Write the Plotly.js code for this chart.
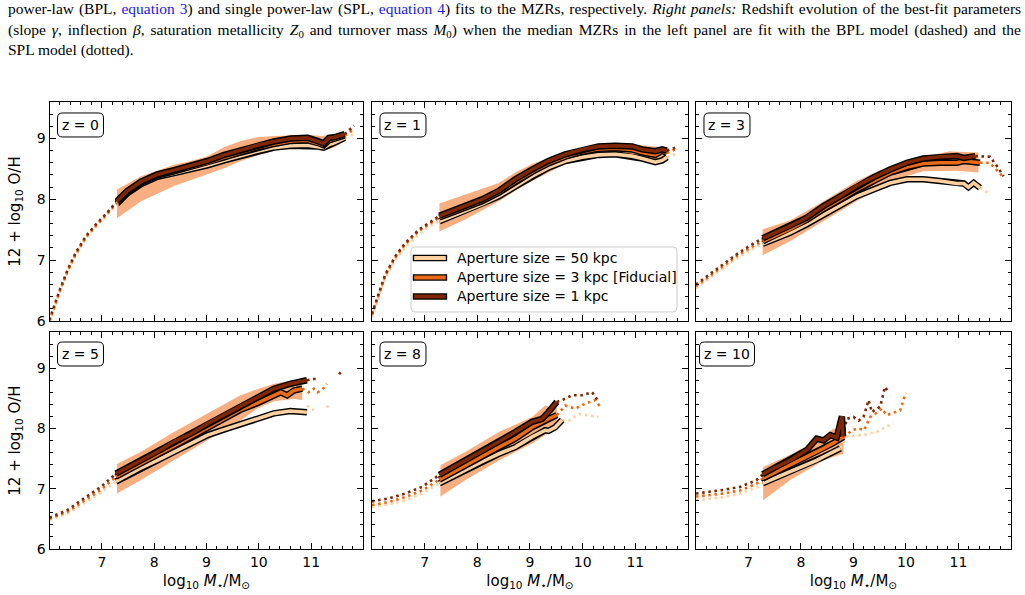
<!DOCTYPE html>
<html>
<head>
<meta charset="utf-8">
<script src="https://cdn.plot.ly/plotly-3.0.1.min.js"></script>
<style>html,body{margin:0;padding:0;background:#fff;}#chart{width:1025px;height:595px;}</style>
</head>
<body>
<div id="chart"></div>
<script>
// ---------------- DATA ----------------
const panelLabels = ['z = 0', 'z = 1', 'z = 3', 'z = 5', 'z = 8', 'z = 10'];
const apertureNames = ['Aperture size = 50 kpc', 'Aperture size = 3 kpc [Fiducial]', 'Aperture size = 1 kpc'];
const xTickVals = [7, 8, 9, 10, 11];
const yTickVals = [6, 7, 8, 9];

// z = 0
const z0_m = [7.29, 7.49, 7.75, 8.06, 8.38, 8.70, 9.02, 9.34, 9.66, 9.97, 10.29, 10.61, 10.93, 11.12, 11.24, 11.34, 11.44, 11.64];
const z0_oh1 = [7.97, 8.14, 8.29, 8.41, 8.48, 8.55, 8.63, 8.73, 8.81, 8.89, 8.95, 9.00, 9.01, 8.96, 8.92, 9.01, 9.02, 9.07];
const z0_oh3 = [7.95, 8.12, 8.27, 8.39, 8.46, 8.53, 8.60, 8.69, 8.77, 8.85, 8.91, 8.96, 8.97, 8.93, 8.89, 8.97, 8.99, 9.05];
const z0_oh50 = [7.93, 8.10, 8.25, 8.37, 8.43, 8.49, 8.56, 8.64, 8.72, 8.79, 8.85, 8.88, 8.89, 8.87, 8.85, 8.90, 8.93, 9.01];
const z0_bandM = [7.29, 7.75, 8.38, 8.70, 9.02, 9.34, 9.66, 9.97, 10.29, 10.93, 11.20, 11.44, 11.64];
const z0_bandHi = [8.16, 8.38, 8.57, 8.63, 8.71, 8.86, 8.96, 9.02, 9.04, 9.06, 9.04, 9.07, 9.08];
const z0_bandLo = [7.69, 7.97, 8.22, 8.31, 8.41, 8.51, 8.63, 8.72, 8.80, 8.86, 8.80, 8.85, 8.96];
const z0_lowM = [6.0, 6.1, 6.2, 6.35, 6.5, 6.7, 6.9, 7.1, 7.29];
const z0_low1 = [6.02, 6.28, 6.52, 6.85, 7.12, 7.40, 7.60, 7.78, 7.97];
const z0_low3 = [6.00, 6.26, 6.50, 6.83, 7.10, 7.38, 7.58, 7.76, 7.95];
const z0_low50 = [5.98, 6.24, 6.48, 6.81, 7.08, 7.36, 7.56, 7.74, 7.93];
const z0_hiM = [11.64, 11.73, 11.82];
const z0_hi1 = [9.07, 9.14, 9.21];
const z0_hi3 = [9.05, 9.10, 9.15];
const z0_hi50 = [9.01, 9.04, 9.07];

// z = 1
const z1_m = [7.28, 7.77, 8.09, 8.41, 8.72, 9.04, 9.35, 9.67, 9.99, 10.30, 10.62, 10.94, 11.13, 11.38, 11.51, 11.60];
const z1_oh1 = [7.73, 7.89, 8.00, 8.14, 8.33, 8.49, 8.63, 8.74, 8.82, 8.87, 8.88, 8.87, 8.82, 8.79, 8.82, 8.80];
const z1_oh3 = [7.70, 7.86, 7.97, 8.11, 8.29, 8.45, 8.59, 8.70, 8.78, 8.83, 8.84, 8.82, 8.77, 8.73, 8.80, 8.76];
const z1_oh50 = [7.64, 7.81, 7.92, 8.05, 8.21, 8.38, 8.52, 8.63, 8.69, 8.73, 8.74, 8.71, 8.67, 8.61, 8.64, 8.69];
const z1_bandM = [7.28, 7.77, 8.41, 8.72, 9.04, 9.67, 10.30, 10.94, 11.25, 11.57];
const z1_bandHi = [7.93, 8.08, 8.27, 8.44, 8.58, 8.77, 8.86, 8.90, 8.88, 8.85];
const z1_bandLo = [7.47, 7.67, 7.97, 8.14, 8.30, 8.58, 8.69, 8.69, 8.63, 8.66];
const z1_lowM = [6.0, 6.13, 6.25, 6.44, 6.63, 6.89, 7.14, 7.28];
const z1_low1 = [6.12, 6.45, 6.76, 7.06, 7.28, 7.50, 7.65, 7.73];
const z1_low3 = [6.10, 6.43, 6.74, 7.04, 7.26, 7.48, 7.63, 7.70];
const z1_low50 = [6.06, 6.39, 6.70, 7.00, 7.21, 7.43, 7.58, 7.64];
const z1_hiM = [11.60, 11.70, 11.80];
const z1_hi1 = [8.80, 8.83, 8.86];
const z1_hi3 = [8.76, 8.80, 8.84];
const z1_hi50 = [8.69, 8.73, 8.76];

// z = 3
const z3_m1 = [7.27, 7.79, 8.11, 8.43, 8.75, 9.06, 9.38, 9.70, 10.02, 10.33, 10.65, 10.97, 11.10, 11.32];
const z3_oh1 = [7.36, 7.56, 7.70, 7.89, 8.05, 8.22, 8.36, 8.49, 8.60, 8.67, 8.70, 8.71, 8.68, 8.71];
const z3_m3 = [7.27, 7.79, 8.11, 8.43, 8.75, 9.06, 9.38, 9.70, 10.02, 10.33, 10.65, 10.97, 11.10, 11.41];
const z3_oh3 = [7.31, 7.51, 7.66, 7.84, 8.00, 8.16, 8.30, 8.44, 8.53, 8.59, 8.60, 8.60, 8.63, 8.60];
const z3_m50 = [7.27, 7.79, 8.11, 8.43, 8.75, 9.06, 9.38, 9.70, 10.02, 10.33, 10.65, 10.97, 11.10, 11.19, 11.29, 11.41];
const z3_oh50 = [7.27, 7.45, 7.59, 7.75, 7.90, 8.05, 8.16, 8.27, 8.33, 8.33, 8.30, 8.26, 8.26, 8.20, 8.27, 8.19];
const z3_bandM = [7.27, 7.79, 8.43, 9.06, 9.70, 10.33, 10.84, 10.97, 11.38];
const z3_bandHi = [7.51, 7.65, 7.97, 8.30, 8.55, 8.70, 8.79, 8.78, 8.77];
const z3_bandLo = [7.08, 7.31, 7.64, 7.97, 8.30, 8.46, 8.47, 8.47, 8.44];
const z3_lowM = [6.0, 6.27, 6.52, 6.78, 7.03, 7.27];
const z3_low1 = [6.60, 6.77, 6.94, 7.10, 7.24, 7.36];
const z3_low3 = [6.57, 6.74, 6.91, 7.07, 7.20, 7.31];
const z3_low50 = [6.54, 6.71, 6.88, 7.03, 7.16, 7.27];
const z3_hiM1 = [11.32, 11.60, 11.73, 11.86];
const z3_hi1 = [8.71, 8.70, 8.55, 8.38];
const z3_hiM3 = [11.41, 11.60, 11.73, 11.86];
const z3_hi3 = [8.60, 8.60, 8.48, 8.36];
const z3_hiM50 = [11.41, 11.50, 11.60];
const z3_hi50 = [8.19, 8.14, 8.08];

// z = 5
const z5_m1 = [7.27, 7.74, 8.06, 8.38, 8.70, 9.02, 9.33, 9.65, 9.97, 10.29, 10.60, 10.92];
const z5_oh1 = [7.25, 7.47, 7.61, 7.78, 7.91, 8.08, 8.22, 8.38, 8.51, 8.66, 8.74, 8.80];
const z5_m3 = [7.27, 7.74, 8.06, 8.38, 8.70, 9.02, 9.33, 9.65, 9.97, 10.29, 10.42, 10.54, 10.67, 10.83];
const z5_oh3 = [7.20, 7.41, 7.56, 7.71, 7.86, 8.01, 8.16, 8.31, 8.42, 8.55, 8.60, 8.55, 8.63, 8.66];
const z5_m50 = [7.27, 7.74, 8.06, 8.38, 8.70, 9.02, 9.33, 9.65, 9.97, 10.29, 10.60, 10.92];
const z5_oh50 = [7.12, 7.34, 7.47, 7.61, 7.75, 7.89, 7.98, 8.07, 8.16, 8.25, 8.29, 8.27];
const z5_bandM = [7.29, 7.74, 8.38, 9.02, 9.65, 9.97, 10.29, 10.67, 10.83];
const z5_bandHi = [7.41, 7.61, 7.94, 8.25, 8.55, 8.65, 8.74, 8.80, 8.80];
const z5_bandLo = [6.92, 7.14, 7.47, 7.80, 8.13, 8.33, 8.45, 8.49, 8.47];
const z5_lowM = [6.0, 6.35, 6.66, 6.98, 7.27];
const z5_low1 = [6.52, 6.65, 6.84, 7.03, 7.25];
const z5_low3 = [6.50, 6.62, 6.80, 6.98, 7.20];
const z5_low50 = [6.48, 6.59, 6.76, 6.93, 7.12];
const z5_hiM1 = [10.92, 11.05, 11.15, null, 11.53, 11.60];
const z5_hi1 = [8.80, 8.82, 8.82, null, 8.93, 8.88];
const z5_hiM3 = [10.83, 10.95, 11.05, 11.12, 11.21, 11.30];
const z5_hi3 = [8.66, 8.60, 8.66, 8.60, 8.64, 8.74];
const z5_hiM50 = [10.92, 10.99, 11.05, null, 11.30, 11.36];
const z5_hi50 = [8.38, 8.33, 8.30, null, 8.38, 8.32];

// z = 8
const z8_m1 = [7.28, 7.77, 8.09, 8.41, 8.72, 9.04, 9.23, 9.35, 9.51];
const z8_oh1 = [7.23, 7.47, 7.61, 7.78, 7.94, 8.11, 8.16, 8.27, 8.44];
const z8_m3 = [7.28, 7.77, 8.09, 8.41, 8.72, 9.04, 9.35, 9.51];
const z8_oh3 = [7.15, 7.39, 7.54, 7.69, 7.83, 8.02, 8.16, 8.22];
const z8_m50 = [7.28, 7.77, 8.09, 8.41, 8.72, 9.04, 9.29, 9.35, 9.48, 9.61];
const z8_oh50 = [7.09, 7.31, 7.45, 7.58, 7.69, 7.86, 7.97, 7.96, 8.02, 8.14];
const z8_bandM = [7.30, 7.77, 8.41, 9.04, 9.29, 9.51];
const z8_bandHi = [7.39, 7.61, 7.94, 8.19, 8.38, 8.33];
const z8_bandLo = [6.87, 7.14, 7.47, 7.75, 7.89, 7.97];
const z8_lowM = [6.0, 6.32, 6.63, 6.95, 7.28];
const z8_low1 = [6.79, 6.84, 6.92, 7.03, 7.23];
const z8_low3 = [6.73, 6.78, 6.86, 6.97, 7.15];
const z8_low50 = [6.70, 6.74, 6.81, 6.92, 7.09];
const z8_hiM1 = [9.51, 9.61, 9.80, 9.99, 10.18, 10.30];
const z8_hi1 = [8.44, 8.47, 8.55, 8.55, 8.60, 8.45];
const z8_hiM3 = [9.51, 9.67, 9.86, 10.05, 10.24, 10.36];
const z8_hi3 = [8.22, 8.38, 8.33, 8.41, 8.47, 8.33];
const z8_hiM50 = [9.61, 9.74, 9.93, 10.30];
const z8_hi50 = [8.14, 8.13, 8.24, 8.19];

// z = 10
const z10_m1 = [7.27, 7.48, 7.79, 8.11, 8.30, 8.43, 8.56, 8.68, 8.78, 8.80];
const z10_oh1 = [7.24, 7.34, 7.47, 7.64, 7.83, 7.80, 7.89, 7.85, 8.20, 7.87];
const z10_m3 = [7.27, 7.79, 8.11, 8.43, 8.62, 8.81];
const z10_oh3 = [7.17, 7.39, 7.53, 7.67, 7.76, 7.86];
const z10_m50 = [7.27, 7.79, 8.11, 8.30, 8.43, 8.62, 8.75];
const z10_oh50 = [7.09, 7.28, 7.39, 7.47, 7.53, 7.61, 7.67];
const z10_bandM = [7.28, 7.79, 8.43, 8.62, 8.81];
const z10_bandHi = [7.36, 7.56, 7.86, 8.00, 7.91];
const z10_bandLo = [6.81, 7.14, 7.47, 7.53, 7.58];
const z10_lowM = [6.0, 6.52, 6.84, 7.15, 7.27];
const z10_low1 = [6.92, 6.98, 7.03, 7.14, 7.24];
const z10_low3 = [6.87, 6.92, 6.97, 7.08, 7.17];
const z10_low50 = [6.81, 6.86, 6.92, 7.02, 7.09];
const z10_hiM1 = [8.80, 8.87, 9.00, 9.10, 9.19, 9.29, 9.35, 9.41, 9.51, 9.57, 9.60, 9.67];
const z10_hi1 = [7.87, 8.16, 8.19, 8.13, 8.19, 8.47, 8.27, 8.31, 8.36, 8.58, 8.69, 8.60];
const z10_hiM3 = [8.81, 8.87, 8.97, 9.10, 9.20, 9.32, 9.41, 9.54, 9.63, 9.89, 9.95, 10.00];
const z10_hi3 = [7.86, 7.89, 7.97, 8.00, 7.97, 8.19, 8.24, 8.33, 8.22, 8.30, 8.47, 8.59];
const z10_hiM50 = [8.75, 8.87, 9.06, 9.19, 9.32, 9.44, 9.63, 9.76];
const z10_hi50 = [7.67, 7.86, 7.89, 7.89, 7.92, 7.94, 8.03, 8.08];

// ---------------- table built from the arrays ----------------
const panels = [
  {s: [[z0_m, z0_oh50], [z0_m, z0_oh3], [z0_m, z0_oh1]], band: [z0_bandM, z0_bandHi, z0_bandLo],
   low: [[z0_lowM, z0_low50], [z0_lowM, z0_low3], [z0_lowM, z0_low1]], hi: [[z0_hiM, z0_hi50], [z0_hiM, z0_hi3], [z0_hiM, z0_hi1]]},
  {s: [[z1_m, z1_oh50], [z1_m, z1_oh3], [z1_m, z1_oh1]], band: [z1_bandM, z1_bandHi, z1_bandLo],
   low: [[z1_lowM, z1_low50], [z1_lowM, z1_low3], [z1_lowM, z1_low1]], hi: [[z1_hiM, z1_hi50], [z1_hiM, z1_hi3], [z1_hiM, z1_hi1]]},
  {s: [[z3_m50, z3_oh50], [z3_m3, z3_oh3], [z3_m1, z3_oh1]], band: [z3_bandM, z3_bandHi, z3_bandLo],
   low: [[z3_lowM, z3_low50], [z3_lowM, z3_low3], [z3_lowM, z3_low1]], hi: [[z3_hiM50, z3_hi50], [z3_hiM3, z3_hi3], [z3_hiM1, z3_hi1]]},
  {s: [[z5_m50, z5_oh50], [z5_m3, z5_oh3], [z5_m1, z5_oh1]], band: [z5_bandM, z5_bandHi, z5_bandLo],
   low: [[z5_lowM, z5_low50], [z5_lowM, z5_low3], [z5_lowM, z5_low1]], hi: [[z5_hiM50, z5_hi50], [z5_hiM3, z5_hi3], [z5_hiM1, z5_hi1]]},
  {s: [[z8_m50, z8_oh50], [z8_m3, z8_oh3], [z8_m1, z8_oh1]], band: [z8_bandM, z8_bandHi, z8_bandLo],
   low: [[z8_lowM, z8_low50], [z8_lowM, z8_low3], [z8_lowM, z8_low1]], hi: [[z8_hiM50, z8_hi50], [z8_hiM3, z8_hi3], [z8_hiM1, z8_hi1]]},
  {s: [[z10_m50, z10_oh50], [z10_m3, z10_oh3], [z10_m1, z10_oh1]], band: [z10_bandM, z10_bandHi, z10_bandLo],
   low: [[z10_lowM, z10_low50], [z10_lowM, z10_low3], [z10_lowM, z10_low1]], hi: [[z10_hiM50, z10_hi50], [z10_hiM3, z10_hi3], [z10_hiM1, z10_hi1]]}
];

// ---------------- styles ----------------
const COLORS = ['#fdd0a2', '#ec6a16', '#7f2704'];
const BAND = '#f7ae80';
const FONT = 'DejaVu Sans, Verdana, sans-serif';
const colX = [[0.0483, 0.3546], [0.3629, 0.6712], [0.6790, 0.9863]];
const rowY = [[0.4605, 0.8286], [0.0773, 0.4420]];

const traces = [];
const layout = {
  width: 1025, height: 595,
  margin: {l: 0, r: 0, t: 0, b: 0},
  paper_bgcolor: '#ffffff', plot_bgcolor: '#ffffff',
  showlegend: false,
  font: {family: FONT, size: 14, color: '#000'},
  shapes: [], annotations: []
};

function rr(x0, x1, yTop, yBot, r) {
  // rounded rectangle path in pixels (y upward)
  return `M${x0 + r},${yTop} L${x1 - r},${yTop} Q${x1},${yTop} ${x1},${yTop - r} L${x1},${yBot + r} Q${x1},${yBot} ${x1 - r},${yBot} L${x0 + r},${yBot} Q${x0},${yBot} ${x0},${yBot + r} L${x0},${yTop - r} Q${x0},${yTop} ${x0 + r},${yTop} Z`;
}

panels.forEach((p, i) => {
  const col = i % 3, row = Math.floor(i / 3);
  const sfx = i === 0 ? '' : String(i + 1);
  const xa = 'x' + sfx, ya = 'y' + sfx;

  // scatter band of the fiducial aperture
  traces.push({
    x: p.band[0].concat(p.band[0].slice().reverse()),
    y: p.band[1].concat(p.band[2].slice().reverse()),
    xaxis: xa, yaxis: ya, mode: 'lines', fill: 'toself', fillcolor: BAND,
    line: {width: 0, color: BAND}, hoverinfo: 'skip'
  });
  // dotted extrapolations
  [0, 1, 2].forEach(k => {
    [p.low[k], p.hi[k]].forEach(d => {
      traces.push({x: d[0], y: d[1], xaxis: xa, yaxis: ya, mode: 'lines',
        line: {color: COLORS[k], width: 2.6, dash: '2.6px,3.6px'}, hoverinfo: 'skip', connectgaps: false});
    });
  });
  // median relations with black outline
  [0, 1, 2].forEach(k => {
    const d = p.s[k];
    traces.push({x: d[0], y: d[1], xaxis: xa, yaxis: ya, mode: 'lines',
      line: {color: '#000', width: 6.5}, hoverinfo: 'skip'});
    traces.push({x: d[0], y: d[1], xaxis: xa, yaxis: ya, mode: 'lines', name: apertureNames[k],
      line: {color: COLORS[k], width: 3.6}});
  });

  const common = {
    showline: true, linecolor: '#000', linewidth: 1, mirror: 'allticks',
    ticks: 'inside', ticklen: 6, tickwidth: 1, tickcolor: '#000',
    showgrid: false, zeroline: false, fixedrange: true,
    tickfont: {family: FONT, size: 14, color: '#000'}
  };
  const xax = Object.assign({}, common, {
    domain: colX[col], anchor: ya, range: [6, 12],
    tickmode: 'array', tickvals: xTickVals, showticklabels: row === 1,
    minor: {ticks: 'inside', ticklen: 3, tickwidth: 1, tickcolor: '#000', tickmode: 'linear', tick0: 6, dtick: 0.2, showgrid: false}
  });
  if (row === 1) xax.title = {text: 'log<sub>10</sub> <i>M</i><sub>⋆</sub>/M<sub>⊙</sub>', font: {family: FONT, size: 15, color: '#000'}, standoff: 6};
  layout['xaxis' + sfx] = xax;
  const yax = Object.assign({}, common, {
    domain: rowY[row], anchor: xa, range: [6, 9.6],
    tickmode: 'array', tickvals: yTickVals, showticklabels: col === 0,
    minor: {ticks: 'inside', ticklen: 3, tickwidth: 1, tickcolor: '#000', tickmode: 'linear', tick0: 6, dtick: 0.2, showgrid: false}
  });
  if (col === 0) yax.title = {text: '12 + log<sub>10</sub> O/H', font: {family: FONT, size: 15, color: '#000'}, standoff: 12};
  layout['yaxis' + sfx] = yax;

  // redshift label with rounded box
  const lbl = panelLabels[i];
  const w = 46 + 9 * (lbl.length - 5);
  const top = row === 0 ? -11 : -10;
  layout.shapes.push({
    type: 'path', xref: xa + ' domain', yref: ya + ' domain', xsizemode: 'pixel', ysizemode: 'pixel',
    xanchor: 0, yanchor: 1, path: rr(31 - w / 2, 31 + w / 2, top, top - 24, 5),
    line: {color: '#000', width: 1}, fillcolor: '#fff', layer: 'above'
  });
  layout.annotations.push({
    xref: xa + ' domain', yref: ya + ' domain', x: 0, y: 1, xshift: 31, yshift: top - 12,
    xanchor: 'center', yanchor: 'middle', showarrow: false, text: lbl,
    font: {family: FONT, size: 14, color: '#000'}
  });
});

// legend drawn inside the z = 1 panel
layout.shapes.push({
  type: 'path', xref: 'x2 domain', yref: 'y2 domain', xsizemode: 'pixel', ysizemode: 'pixel',
  xanchor: 0, yanchor: 1, path: rr(39, 305, -145, -210, 4),
  line: {color: '#cccccc', width: 1}, fillcolor: 'rgba(255,255,255,0.85)', layer: 'above'
});
const legRows = [-156, -175.5, -194.5];
[0, 1, 2].forEach(k => {
  layout.shapes.push({
    type: 'rect', xref: 'x2 domain', yref: 'y2 domain', xsizemode: 'pixel', ysizemode: 'pixel',
    xanchor: 0, yanchor: 1, x0: 41.5, x1: 74.5, y0: legRows[k] - 2.6, y1: legRows[k] + 2.6,
    line: {color: '#000', width: 1.4}, fillcolor: COLORS[k], layer: 'above'
  });
  layout.annotations.push({
    xref: 'x2 domain', yref: 'y2 domain', x: 0, y: 1, xshift: 83, yshift: legRows[k],
    xanchor: 'left', yanchor: 'middle', showarrow: false, text: apertureNames[k],
    font: {family: FONT, size: 14, color: '#000'}
  });
});

// caption text above the figure
const LINK = '#1a1ae0';
const captionLines = [
  `power-law (BPL, <span style="color:${LINK}">equation 3</span>) and single power-law (SPL, <span style="color:${LINK}">equation 4</span>) fits to the MZRs, respectively. <i>Right panels:</i> Redshift evolution of the best-fit parameters`,
  '(slope <i>γ</i>, inflection <i>β</i>, saturation metallicity <i>Z</i><sub>0</sub> and turnover mass <i>M</i><sub>0</sub>) when the median MZRs in the left panel are fit with the BPL model (dashed) and the',
  'SPL model (dotted).'
];
const captionY = [9, 30, 50];
const captionJustify = [true, true, false];
const capStart = layout.annotations.length;
captionLines.forEach((t, j) => {
  layout.annotations.push({
    xref: 'paper', yref: 'paper', x: 6 / 1025, y: 1 - captionY[j] / 595,
    xanchor: 'left', yanchor: 'middle', align: 'left', showarrow: false, text: t,
    font: {family: 'Liberation Serif, Times New Roman, serif', size: 15.5, color: '#000'}
  });
});

Plotly.newPlot('chart', traces, layout, {displayModeBar: false, staticPlot: true}).then(gd => {
  // justify the full caption lines (word spacing) like the typeset paper text
  const target = 1013;
  captionJustify.forEach((jst, j) => {
    if (!jst) return;
    const g = gd.querySelector(`g.annotation[data-index="${capStart + j}"] text.annotation-text`);
    if (!g) return;
    const len = g.getComputedTextLength();
    const spaces = (g.textContent.match(/ /g) || []).length;
    if (spaces > 0 && len < target) {
      g.style.wordSpacing = ((target - len) / spaces).toFixed(2) + 'px';
    }
  });
});
</script>
</body>
</html>
